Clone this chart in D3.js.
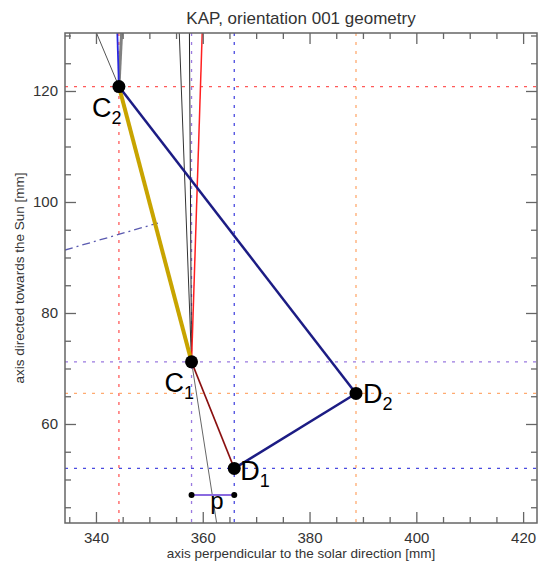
<!DOCTYPE html>
<html><head><meta charset="utf-8">
<script src="https://cdn.jsdelivr.net/npm/d3@7"></script>
<style>body{margin:0;background:#fff}svg{display:block;font-family:"Liberation Sans",Arial,sans-serif}</style>
</head><body><svg id="c" width="542" height="563"></svg>
<script>
// ---- data (mm) ----
const xDomain = [334.2, 422.6];
const yDomain = [42.16, 130.45];
const xMajorTicks = [340, 360, 380, 400, 420];
const xMinorTicks = [335,345,350,355,365,370,375,385,390,395,405,410,415];
const yMajorTicks = [60, 80, 100, 120];
const yMinorTicks = [45,50,55,65,70,75,85,90,95,105,110,115,125,130];
const pointNames = ["C2", "C1", "D1", "D2"];
const pointX = [344.3, 357.9, 365.9, 388.7];
const pointY = [120.8, 71.2, 52.0, 65.5];
const guideColors = ["#ff5a5a", "#9a7ae0", "#4a4ae0", "#ffaa70"];
// segments between named points: [from, to]
const segFrom = ["C2", "C2", "D2", "C1"];
const segTo   = ["C1", "D2", "D1", "D1"];
// auxiliary lines [x1,y1,x2,y2]
const redRay = [357.9, 71.2, 360.05, 135];
const blackRayA = [355.6, 130.45, 357.9, 71.2];
const blackRayB = [357.5, 130.45, 357.9, 71.2];
const grayRayDown = [357.9, 71.2, 362.6, 42.16];
const grayRayC2 = [340.1, 130.45, 344.3, 120.8];
const blueRayC2 = [344.3, 120.8, 344.0, 130.45];
const grayThickC2 = [344.3, 120.8, 344.8, 130.45];
const dashDot = [334.2, 91.35, 351.6, 96.2];
const pY = 47.2;
const pX = [357.9, 365.9];

const svg = d3.select("#c");
const L = 65, R = 537, T = 33, B = 523;
const x = d3.scaleLinear().domain(xDomain).range([L, R]);
const y = d3.scaleLinear().domain(yDomain).range([B, T]);
const P = {}; pointNames.forEach((n,i)=>P[n]=[pointX[i], pointY[i]]);

const plot = svg.append("g");
svg.append("defs").append("clipPath").attr("id","clip").append("rect")
  .attr("x",L).attr("y",T).attr("width",R-L).attr("height",B-T);
const g = plot.append("g").attr("clip-path","url(#clip)");

// guide dotted lines
pointNames.forEach((n,i)=>{
  g.append("line").attr("x1",x(pointX[i])).attr("x2",x(pointX[i])).attr("y1",T).attr("y2",B)
    .attr("stroke",guideColors[i]).attr("stroke-width",1.3).attr("stroke-dasharray","3,6");
  g.append("line").attr("x1",L).attr("x2",R).attr("y1",y(pointY[i])).attr("y2",y(pointY[i]))
    .attr("stroke",guideColors[i]).attr("stroke-width",1.3).attr("stroke-dasharray","3,6");
});

function seg(a, col, w, dash){
  const l = g.append("line").attr("x1",x(a[0])).attr("y1",y(a[1])).attr("x2",x(a[2])).attr("y2",y(a[3]))
    .attr("stroke",col).attr("stroke-width",w);
  if(dash) l.attr("stroke-dasharray",dash);
  return l;
}
seg(dashDot, "#5a5ab0", 1.3, "8,4,2,4");
seg(grayRayC2, "#555", 1);
seg(grayThickC2, "#808080", 3);
seg(blueRayC2, "#2828e0", 1.8);
seg(blackRayA, "#333", 1);
seg(blackRayB, "#222", 1);
seg(grayRayDown, "#666", 1);
seg(redRay, "#ff2020", 1.5);

const segCols = ["#c8a400", "#1c1c84", "#1c1c84", "#8a1010"];
const segW = [4, 2.5, 2.5, 1.6];
segFrom.forEach((f,i)=>{
  seg([P[f][0],P[f][1],P[segTo[i]][0],P[segTo[i]][1]], segCols[i], segW[i]);
});

// p marker
g.append("line").attr("x1",x(pX[0])).attr("x2",x(pX[1])).attr("y1",y(pY)).attr("y2",y(pY))
  .attr("stroke","#8a6ae0").attr("stroke-width",2);
pX.forEach(v=>g.append("circle").attr("cx",x(v)).attr("cy",y(pY)).attr("r",3).attr("fill","#000"));

// points
pointNames.forEach((n,i)=>{
  g.append("circle").attr("cx",x(pointX[i])).attr("cy",y(pointY[i])).attr("r",6.5).attr("fill","#000");
});

// labels
const lab = [
  {n:"C2", dx:-27, dy:30},
  {n:"C1", dx:-27, dy:30},
  {n:"D1", dx:6, dy:12},
  {n:"D2", dx:7, dy:10}
];
lab.forEach(o=>{
  const t = svg.append("text").attr("x",x(P[o.n][0])+o.dx).attr("y",y(P[o.n][1])+o.dy)
    .attr("font-size",27).attr("fill","#000");
  t.append("tspan").text(o.n[0]);
  t.append("tspan").attr("font-size",18).attr("dy",7).text(o.n[1]);
});
svg.append("text").attr("x",(x(pX[0])+x(pX[1]))/2+4).attr("y",y(pY)+14).attr("font-size",24)
  .attr("text-anchor","middle").text("p");

// axes
const axCol = "#666";
function styleAx(sel){ sel.select(".domain").remove(); sel.selectAll("line").attr("stroke",axCol).attr("stroke-width",1.3); }
const axB = svg.append("g").attr("transform",`translate(0,${B})`)
  .call(d3.axisBottom(x).tickValues(xMajorTicks).tickSizeInner(-11).tickSizeOuter(0).tickPadding(9).tickFormat(d3.format("d")));
styleAx(axB);
axB.selectAll("text").attr("font-size",15).attr("fill","#333").attr("font-family","Liberation Sans, Arial");
svg.append("g").attr("transform",`translate(0,${B})`)
  .call(d3.axisBottom(x).tickValues(xMinorTicks).tickSize(-6).tickFormat("")).call(styleAx);
svg.append("g").attr("transform",`translate(0,${T})`)
  .call(d3.axisTop(x).tickValues(xMajorTicks).tickSize(-11).tickFormat("")).call(styleAx);
svg.append("g").attr("transform",`translate(0,${T})`)
  .call(d3.axisTop(x).tickValues(xMinorTicks).tickSize(-6).tickFormat("")).call(styleAx);
const axL = svg.append("g").attr("transform",`translate(${L},0)`)
  .call(d3.axisLeft(y).tickValues(yMajorTicks).tickSizeInner(-11).tickSizeOuter(0).tickPadding(7).tickFormat(d3.format("d")));
styleAx(axL);
axL.selectAll("text").attr("font-size",15).attr("fill","#333").attr("font-family","Liberation Sans, Arial");
svg.append("g").attr("transform",`translate(${L},0)`)
  .call(d3.axisLeft(y).tickValues(yMinorTicks).tickSize(-6).tickFormat("")).call(styleAx);
svg.append("g").attr("transform",`translate(${R},0)`)
  .call(d3.axisRight(y).tickValues(yMajorTicks).tickSize(-11).tickFormat("")).call(styleAx);
svg.append("g").attr("transform",`translate(${R},0)`)
  .call(d3.axisRight(y).tickValues(yMinorTicks).tickSize(-6).tickFormat("")).call(styleAx);
svg.append("rect").attr("x",L).attr("y",T).attr("width",R-L).attr("height",B-T)
  .attr("fill","none").attr("stroke",axCol).attr("stroke-width",1.5);

// titles
svg.append("text").attr("x",(L+R)/2).attr("y",24).attr("text-anchor","middle")
  .attr("font-size",17).attr("fill","#333").text("KAP, orientation 001 geometry");
svg.append("text").attr("x",(L+R)/2).attr("y",558).attr("text-anchor","middle")
  .attr("font-size",13.5).attr("fill","#333").text("axis perpendicular to the solar direction [mm]");
svg.append("text").attr("transform",`translate(24,${(T+B)/2}) rotate(-90)`).attr("text-anchor","middle")
  .attr("font-size",13.5).attr("fill","#333").text("axis directed towards the Sun [mm]");
</script></body></html>
